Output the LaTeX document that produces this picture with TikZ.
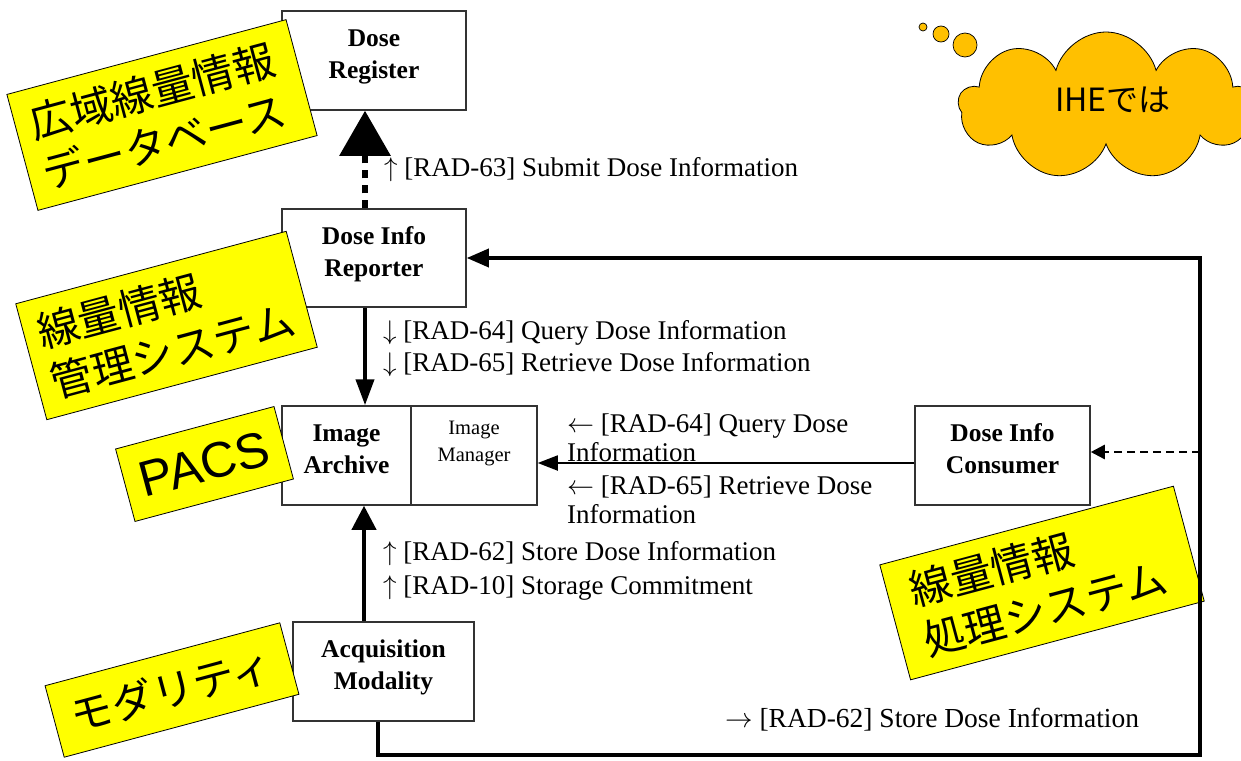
\documentclass[tikz,border=0pt]{standalone}
\usepackage{fix-cm}
\usepackage{fontspec}
\setmainfont{Liberation Serif}
\newfontfamily\jpfont{Noto Sans CJK JP}
\newfontfamily\arialfont{Liberation Sans}
\usetikzlibrary{arrows.meta,shapes.symbols}

\definecolor{notey}{HTML}{FFFF00}
\definecolor{cloudfill}{HTML}{FFC000}
\definecolor{boxline}{HTML}{333333}

% extra depth below the last line lifts a box title above the box centre
\newcommand\liftby[1]{\rule[-#1]{0pt}{1pt}}

\begin{document}
\begin{tikzpicture}[x=1pt,y=-1pt,
  actor/.style={draw=boxline, line width=1.5pt, fill=white, align=center,
    inner sep=0pt, font=\bfseries\fontsize{25.5}{32}\selectfont},
  msg/.style={anchor=west, align=left, inner sep=0pt,
    font=\fontsize{27}{29}\selectfont},
  tag/.style={draw=black, line width=0.8pt, fill=notey, rotate=15,
    inner sep=0pt, font=\jpfont\fontsize{42}{52}\selectfont},
  bubble/.style={circle, draw=black, line width=0.7pt, fill=cloudfill, inner sep=0pt},
  flow/.style={line width=3.5pt, line join=miter},
]
\useasboundingbox (0,0) rectangle (1241,760);

% actors
\node[actor, minimum width=184pt, minimum height=99pt] (register) at (374,60.5) {Dose\\Register\liftby{13pt}};
\node[actor, minimum width=184pt, minimum height=98pt] (reporter) at (374,258) {Dose Info\\Reporter\liftby{13pt}};
\node[actor, minimum width=129pt, minimum height=99pt] (archive) at (346.5,455.5) {Image\\Archive\liftby{13pt}};
\node[actor, minimum width=126pt, minimum height=99pt, font=\fontsize{20.5}{27}\selectfont] (manager) at (474,455.5) {Image\\Manager\liftby{29pt}};
\node[actor, minimum width=175pt, minimum height=99pt] (consumer) at (1002.5,455.5) {Dose Info\\Consumer\liftby{13pt}};
\node[actor, minimum width=181pt, minimum height=99pt] (modality) at (383.5,671.5) {Acquisition\\Modality\liftby{13pt}};

% yellow notes
\node[tag, minimum width=289pt, minimum height=120pt, text width=259pt, align=left] (widearea) at (162,115) {広域線量情報\\データベース};
\node[tag, minimum width=280pt, minimum height=120pt, text width=252pt, align=left] (management) at (166.5,325.5) {線量情報\\管理システム};
\node[tag, minimum width=164pt, minimum height=75pt, font=\arialfont\fontsize{50}{56}\selectfont] (pacs) at (204.5,464) {PACS};
\node[tag, minimum width=243pt, minimum height=74pt] (modalitytag) at (172,690) {モダリティ};
\node[tag, minimum width=304pt, minimum height=119pt, text width=258pt, align=left] (processing) at (1042,583) {線量情報\\処理システム};

% thought cloud
\node[cloud, cloud puffs=9, aspect=2, draw=black, line width=0.8pt, fill=cloudfill,
  minimum width=295pt, minimum height=148pt] (cloud) at (1106,106) {};
\node[font=\jpfont\fontsize{32}{36}\selectfont] (ihe) at (1113,100) {IHEでは};
\node[bubble, minimum size=8pt] (b1) at (923,27) {};
\node[bubble, minimum size=16pt] (b2) at (941,34) {};
\node[bubble, minimum size=24pt] (b3) at (965,45) {};

% transactions
\draw[line width=6pt, dash pattern=on 8pt off 7pt, -{Triangle[width=50pt,length=45pt]}]
  ([xshift=-9pt]reporter.north) -- ([xshift=-9pt]register.south);
\draw[line width=4pt, -{Triangle[width=18pt,length=26pt]}]
  ([xshift=-9pt]reporter.south) -- ([xshift=-9pt]reporter.south |- archive.north);
\draw[line width=4pt, -{Triangle[width=24pt,length=24pt]}]
  ([xshift=-19.5pt]modality.north) -- ([xshift=-19.5pt]modality.north |- archive.south);
\coordinate (lowR) at (1200,755);
\coordinate (tap) at (1200,452);
\draw[flow, -{Triangle[width=18pt,length=22pt]}]
  ([xshift=-5.5pt]modality.south) |- (lowR) |- (reporter.east);
\draw[line width=2.5pt, dash pattern=on 8pt off 5pt, -{Triangle[width=14pt,length=14pt]}]
  (tap) -- (tap -| consumer.east);
\draw[line width=1.8pt, -{Triangle[width=15pt,length=20pt]}]
  ([yshift=-7.5pt]consumer.west) -- ([yshift=-7.5pt]consumer.west -| manager.east);

% transaction labels
\node[msg] (m63) at (384,170) {$\uparrow$ [RAD-63] Submit Dose Information};
\node[msg] (m64a) at (383,333) {$\downarrow$ [RAD-64] Query Dose Information};
\node[msg] (m65a) at (383,365) {$\downarrow$ [RAD-65] Retrieve Dose Information};
\node[msg] (m64b) at (567,437.5) {$\leftarrow$ [RAD-64] Query Dose\\Information};
\node[msg] (m65b) at (567,499.5) {$\leftarrow$ [RAD-65] Retrieve Dose\\Information};
\node[msg] (m62a) at (383,554) {$\uparrow$ [RAD-62] Store Dose Information};
\node[msg] (m10) at (383,588) {$\uparrow$ [RAD-10] Storage Commitment};
\node[msg, font=\fontsize{27.5}{29}\selectfont] (m62b) at (725,720) {$\rightarrow$ [RAD-62] Store Dose Information};
\end{tikzpicture}
\end{document}
